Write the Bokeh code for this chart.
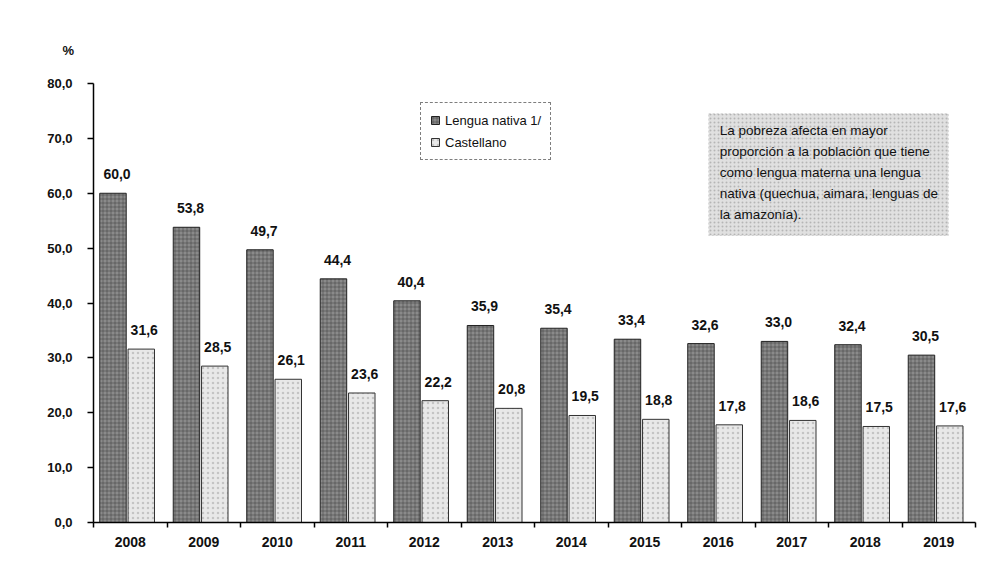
import numpy as np
from bokeh.plotting import figure
from bokeh.models import (ColumnDataSource, Range1d, FixedTicker, CustomJSTickFormatter,
                          Label, BoxAnnotation, Legend, LegendItem, Title)
from bokeh.core.properties import value
from bokeh.transform import dodge
from bokeh.embed import file_html
from bokeh.resources import INLINE

years = ["2008", "2009", "2010", "2011", "2012", "2013", "2014", "2015", "2016", "2017", "2018", "2019"]
nativa = [60.0, 53.8, 49.7, 44.4, 40.4, 35.9, 35.4, 33.4, 32.6, 33.0, 32.4, 30.5]
castellano = [31.6, 28.5, 26.1, 23.6, 22.2, 20.8, 19.5, 18.8, 17.8, 18.6, 17.5, 17.6]
y_ticks = [0, 10, 20, 30, 40, 50, 60, 70, 80]
series_names = ["Lengua nativa 1/", "Castellano"]
note_text = ("La pobreza afecta en mayor\n"
             "proporción a la población que tiene\n"
             "como lengua materna una lengua\n"
             "nativa (quechua, aimara, lenguas de\n"
             "la amazonía).")

FONT = "Liberation Sans"

n = len(years)
src = ColumnDataSource(dict(
    x=np.arange(n) + 0.5,
    nativa=nativa,
    castellano=castellano,
    lab_n=[f"{v:.1f}".replace(".", ",") for v in nativa],
    lab_c=[f"{v:.1f}".replace(".", ",") for v in castellano],
))

p = figure(width=980, height=560, output_backend="svg", toolbar_location=None,
           x_range=Range1d(0, n), y_range=Range1d(0, 80),
           min_border_left=93, min_border_right=5, min_border_top=83, min_border_bottom=38)
p.outline_line_color = None
p.xgrid.visible = False
p.ygrid.visible = False
p.background_fill_color = "white"

r1 = p.vbar(x=dodge("x", -0.235, range=p.x_range), top="nativa", width=0.36, source=src,
            fill_color="#8a8a8a", line_color="#222222", line_width=1,
            hatch_pattern="cross", hatch_color="#2a2a2a", hatch_alpha=0.4, hatch_scale=4)
r2 = p.vbar(x=dodge("x", 0.15, range=p.x_range), top="castellano", width=0.36, source=src,
            fill_color="#e8e8e8", line_color="#333333", line_width=1,
            hatch_pattern="dot", hatch_color="#9a9a9a", hatch_alpha=0.45, hatch_scale=5)

p.text(x=dodge("x", -0.18, range=p.x_range), y="nativa", text="lab_n", source=src,
       text_align="center", text_baseline="middle", y_offset=-19,
       text_font_size="14px", text_font=value(FONT), text_font_style="bold", text_color="#111111")
p.text(x=dodge("x", 0.19, range=p.x_range), y="castellano", text="lab_c", source=src,
       text_align="center", text_baseline="middle", y_offset=-19,
       text_font_size="14px", text_font=value(FONT), text_font_style="bold", text_color="#111111")

# axes
yax = p.yaxis[0]
yax.ticker = FixedTicker(ticks=y_ticks)
yax.formatter = CustomJSTickFormatter(code="return tick.toFixed(1).replace('.', ',');")
yax.major_tick_out = 6
yax.major_tick_in = 0
yax.minor_tick_out = 0
yax.minor_tick_in = 0
yax.axis_line_width = 1.5
yax.major_tick_line_width = 1.5
yax.major_label_standoff = 15
yax.major_label_text_font = FONT
yax.major_label_text_font_size = "13px"
yax.major_label_text_font_style = "bold"
yax.major_label_text_color = "#111111"

xax = p.xaxis[0]
xax.ticker = FixedTicker(ticks=list(np.arange(n) + 0.5), minor_ticks=list(range(n + 1)))
xax.formatter = CustomJSTickFormatter(args=dict(years=years),
                                      code="return years[Math.floor(tick)];")
xax.major_tick_out = 0
xax.major_tick_in = 0
xax.minor_tick_out = 5
xax.minor_tick_in = 0
xax.minor_tick_line_color = "black"
xax.minor_tick_line_width = 1.5
xax.axis_line_width = 1.5
xax.major_label_standoff = 9
xax.major_label_text_font = FONT
xax.major_label_text_font_size = "14px"
xax.major_label_text_font_style = "bold"
xax.major_label_text_color = "#111111"

# percent sign as title
pct = Title(text="%", align="left", offset=-31, standoff=52,
            text_font=FONT, text_font_size="13px", text_font_style="bold", text_color="#111111")
p.add_layout(pct, "above")

# legend
legend = Legend(items=[LegendItem(label=series_names[0], renderers=[r1]),
                       LegendItem(label=series_names[1], renderers=[r2])],
                location=(327, 362), orientation="vertical")
legend.border_line_color = "black"
legend.border_line_dash = "4 3"
legend.border_line_width = 1
legend.background_fill_color = "white"
legend.background_fill_alpha = 1
legend.padding = 9
legend.margin = 0
legend.spacing = 6
legend.label_height = 16
legend.glyph_height = 10
legend.glyph_width = 10
legend.label_standoff = 5
legend.label_text_font = FONT
legend.label_text_font_size = "13px"
legend.label_text_color = "#111111"
p.add_layout(legend, "center")

# note box
p.add_layout(BoxAnnotation(left=8.37, right=11.63, bottom=52.3, top=74.5,
                           fill_color="#e0e0e0", fill_alpha=1,
                           hatch_pattern="dot", hatch_color="#8a8a8a", hatch_alpha=0.5, hatch_scale=4,
                           line_color="#8a8a8a", line_dash="2 2", line_width=1))
p.add_layout(Label(x=8.52, y=72.8, text=note_text, text_align="left", text_baseline="top",
                   text_font=FONT, text_font_size="13.5px",
                   text_line_height=1.4, text_color="#111111"))

open("out.html", "w").write(file_html(p, INLINE))
